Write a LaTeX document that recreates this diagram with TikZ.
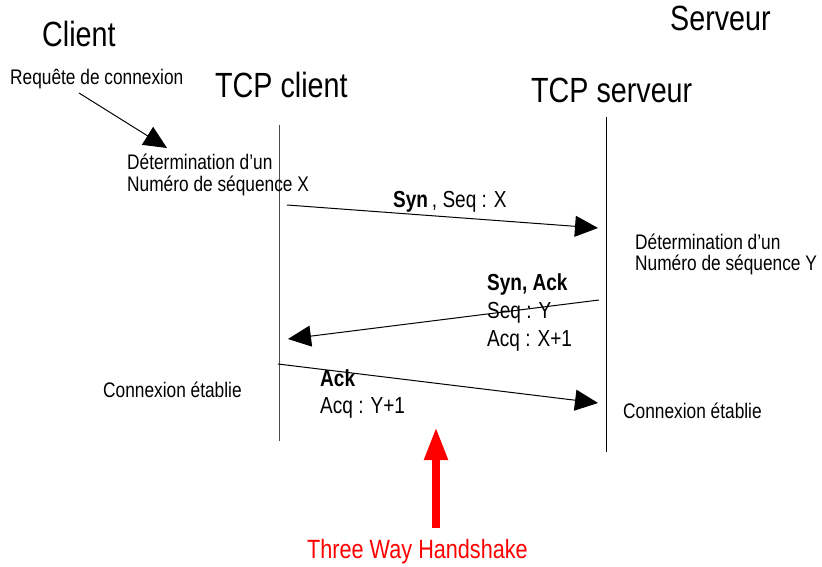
\documentclass[tikz,border=0pt]{standalone}
\usepackage{fontspec}
\setmainfont{Liberation Sans}[FakeStretch=0.82]
\usetikzlibrary{arrows.meta}
\begin{document}
\begin{tikzpicture}[x=1pt,y=-1pt,
  txt/.style={inner sep=0pt, anchor=base west, font=\fontsize{21.1}{25}\selectfont},
  msg/.style={inner sep=0pt, anchor=base west, font=\fontsize{23.2}{28}\selectfont},
  big/.style={inner sep=0pt, anchor=base west, font=\fontsize{35}{42}\selectfont},
  arr/.style={line width=1pt, -{Triangle[length=23pt,width=21pt]}},
  life/.style={line width=1pt},
]
\useasboundingbox (0,0) rectangle (822,567);

% titles
\node[big] (client) at (42,47) {Client};
\node[big] (serveur) at (670,31) {Serveur};
\node[big] (tcpc) at (215,98) {TCP client};
\node[big] (tcps) at (531,103) {TCP serveur};

% lifelines
\coordinate (c1) at (279,125);
\coordinate (c2) at (279,441);
\coordinate (s1) at (606,117);
\coordinate (s2) at (606,452);
\draw[life, black!70] (c1) -- (c2);
\draw[life] (s1) -- (s2);

% request
\node[txt] (req) at (10,85) {Requête de connexion};
\coordinate (r1) at (79,93);
\coordinate (r2) at (167,148);
\draw[arr] (r1) -- (r2);

\node[txt] (detx1) at (127,170) {Détermination d’un};
\node[txt] (detx2) at (127,191) {Numéro de séquence X};

\node[txt] (dety1) at (635,249) {Détermination d’un};
\node[txt] (dety2) at (635,270) {Numéro de séquence Y};

% message 1
\coordinate (m1a) at (287,205);
\coordinate (m1b) at (598,228);
\draw[arr] (m1a) -- (m1b);
\node[msg] (syn) at (393,207) {\textbf{Syn}\,, Seq : X};

% message 2
\coordinate (m2a) at (599,300);
\coordinate (m2b) at (288,339);
\draw[arr] (m2a) -- (m2b);
\node[msg] (synack) at (487,290) {\textbf{Syn, Ack}};
\node[msg] (seqy) at (487,318) {Seq : Y};
\node[msg] (acqx) at (487,346) {Acq : X+1};

% message 3
\coordinate (m3a) at (278,364);
\coordinate (m3b) at (598,403);
\draw[arr] (m3a) -- (m3b);
\node[msg] (ack) at (320,386) {\textbf{Ack}};
\node[msg] (acqy) at (320,413) {Acq : Y+1};

\node[txt] (conc) at (103,397) {Connexion établie};
\node[txt] (cons) at (623,418) {Connexion établie};

% three way handshake
\coordinate (h1) at (436,528);
\coordinate (h2) at (436,427);
\draw[red, line width=7.7pt, -{Triangle[length=33pt,width=22pt]}] (h1) -- (h2);
\node[inner sep=0pt, anchor=base west, text=red, font=\fontsize{26.4}{31}\selectfont] (twh) at (307,558) {Three Way Handshake};
\end{tikzpicture}
\end{document}
